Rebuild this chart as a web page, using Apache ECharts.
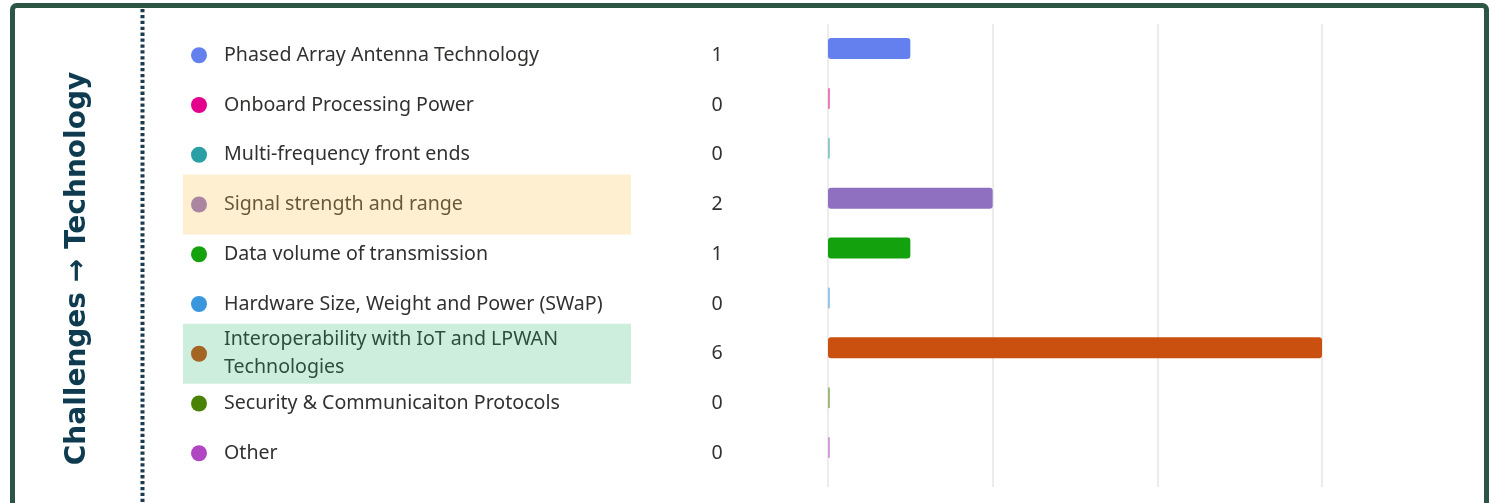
<!DOCTYPE html>
<html><head><meta charset="utf-8">
<script src="https://cdn.jsdelivr.net/npm/echarts@6/dist/echarts.min.js"></script>
<style>html,body{margin:0;padding:0;background:#fff}#c{width:1491px;height:503px}</style>
</head><body><div id="c"></div>
<script>
// ---- data ----
const chartTitle = 'Challenges \u2192 Technology';
const categories = [
  'Phased Array Antenna Technology',
  'Onboard Processing Power',
  'Multi-frequency front ends',
  'Signal strength and range',
  'Data volume of transmission',
  'Hardware Size, Weight and Power (SWaP)',
  'Interoperability with IoT and LPWAN Technologies',
  'Security & Communicaiton Protocols',
  'Other'
];
const counts = [1, 0, 0, 2, 1, 0, 6, 0, 0];
const highlightRows = ['Signal strength and range', 'Interoperability with IoT and LPWAN Technologies'];
const axisMin = 0, axisMax = 6, axisStep = 2;

// ---- styles ----
const colors = ['#6480ef', '#e3008c', '#2aa0a4', '#8f6fbf', '#13a10e', '#3a96dd', '#ca5010', '#498205', '#b146c2'];
const highlightColors = {
  'Signal strength and range': 'rgba(249,196,80,0.27)',
  'Interoperability with IoT and LPWAN Technologies': 'rgba(30,177,100,0.22)'
};
const FONT = '"Noto Sans", sans-serif';
const TEXT = '#323130';

const chart = echarts.init(document.getElementById('c'), null, {renderer: 'canvas'});
const dotRich = {};
colors.forEach((c, i) => { dotRich['d' + i] = {width: 16, height: 16, borderRadius: 8, backgroundColor: c}; });

const option = {
  animation: false,
  backgroundColor: '#ffffff',
  grid: [
    {left: 183, top: 30.4, width: 448, height: 447.75},
    {left: 828, top: 23.55, width: 494, height: 449},
    {left: 828, top: 24, width: 494, height: 463}
  ],
  xAxis: [
    {gridIndex: 0, type: 'value', min: 0, max: 1, show: false},
    {gridIndex: 1, type: 'value', min: axisMin, max: axisMax, show: false},
    {gridIndex: 2, type: 'value', min: axisMin, max: axisMax, interval: axisStep,
     axisLine: {show: false}, axisTick: {show: false}, axisLabel: {show: false},
     splitLine: {show: true, lineStyle: {color: '#e6e6e6', width: 1.5}}}
  ],
  yAxis: [
    {gridIndex: 0, type: 'category', data: categories, inverse: true, position: 'left',
     axisLine: {show: false}, axisTick: {show: false}, splitLine: {show: false},
     axisLabel: {interval: 0, margin: -8, align: 'left', formatter: (v, i) => '{d' + i + '|}', rich: dotRich}},
    {gridIndex: 0, type: 'category', data: categories, inverse: true, position: 'left',
     axisLine: {show: false}, axisTick: {show: false}, splitLine: {show: false},
     axisLabel: {interval: 0, margin: -41, align: 'left', width: 400, overflow: 'break',
       lineHeight: 28, fontSize: 19.6, fontFamily: FONT, color: TEXT}},
    {gridIndex: 0, type: 'category', data: categories, inverse: true, position: 'right',
     axisLine: {show: false}, axisTick: {show: false}, splitLine: {show: false},
     axisLabel: {interval: 0, margin: 86, align: 'center', fontSize: 19.6, fontFamily: FONT, color: TEXT,
       formatter: (v, i) => String(counts[i])}},
    {gridIndex: 1, type: 'category', data: categories, inverse: true, show: false},
    {gridIndex: 2, type: 'value', show: false}
  ],
  series: [
    {type: 'bar', xAxisIndex: 1, yAxisIndex: 3, barWidth: 21, barMinHeight: 2,
     itemStyle: {borderRadius: 3},
     data: counts.map((v, i) => ({value: v, itemStyle: {color: colors[i], opacity: v === 0 ? 0.5 : 1}}))},
    {type: 'bar', xAxisIndex: 0, yAxisIndex: 0, z: 10, barWidth: 60, silent: true,
     data: categories.map(c => highlightRows.includes(c) ? {value: 1, itemStyle: {color: highlightColors[c]}} : 0)}
  ],
  graphic: [
    {type: 'rect', z: 20, shape: {x: 12.5, y: 5.5, width: 1474, height: 620, r: 4},
     style: {fill: null, stroke: '#2d5545', lineWidth: 5}},
    {type: 'line', z: 20, shape: {x1: 142.5, y1: 9, x2: 142.5, y2: 503},
     style: {stroke: '#1b3c50', lineWidth: 4, lineDash: [3.3, 2.6]}},
    {type: 'text', z: 20, x: 78, y: 268.5, rotation: Math.PI / 2,
     style: {text: chartTitle, font: 'bold 28px "DejaVu Sans"', fill: '#0e3b4f', align: 'center', verticalAlign: 'middle'}}
  ]
};
chart.setOption(option);
</script></body></html>
